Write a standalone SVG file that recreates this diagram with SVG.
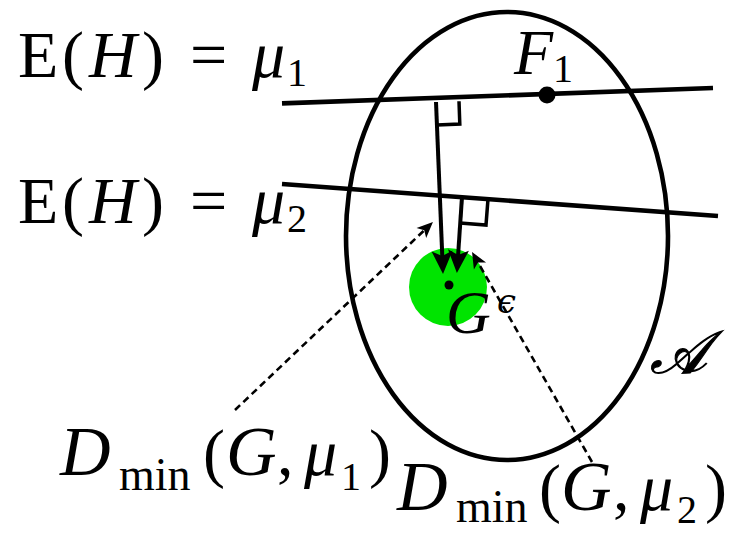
<svg xmlns="http://www.w3.org/2000/svg" width="735" height="533" viewBox="0 0 735 533">
<style>
.t{font-family:"Liberation Serif","DejaVu Serif",serif;fill:#000}
.it{font-style:italic}
.thick{fill:none;stroke:#000;stroke-width:4.6}
.arr{fill:none;stroke:#000;stroke-width:4}
.sq{fill:none;stroke:#000;stroke-width:3.5}
.dot{fill:none;stroke:#000;stroke-width:2.6;stroke-dasharray:7 4.5}
</style>
<defs>
<marker id="head" markerUnits="userSpaceOnUse" viewBox="0 -12 26 24" refX="8" refY="0" markerWidth="26" markerHeight="24" orient="auto" overflow="visible">
<path d="M0,-10.5 L23,0 L0,10.5 L5,0 Z" fill="#000"/>
</marker>
<marker id="headS" markerUnits="userSpaceOnUse" viewBox="0 -9 20 18" refX="6" refY="0" markerWidth="20" markerHeight="18" orient="auto" overflow="visible">
<path d="M0,-7 L16,0 L0,7 L4,0 Z" fill="#000"/>
</marker>
</defs>
<rect width="735" height="533" fill="#fff"/>
<g id="set-G-eps">
<circle cx="448" cy="287" r="39" fill="#00e400"/>
<circle cx="449" cy="285" r="4.5" fill="#000"/>
</g>
<g id="region-A">
<ellipse cx="507" cy="236" rx="161" ry="224" class="thick"/>
</g>
<g id="line-mu1">
<line x1="282" y1="103.4" x2="713" y2="88" class="thick"/>
</g>
<g id="line-mu2">
<line x1="282" y1="184" x2="718" y2="216" class="thick"/>
</g>
<g id="point-F1">
<circle cx="547" cy="95" r="8.5" fill="#000"/>
</g>
<g id="connectors">
<line x1="436" y1="102" x2="442.4" y2="259" class="arr" marker-end="url(#head)"/>
<polyline points="436.8,125 459.8,124 459,101.2" class="sq"/>
<line x1="462" y1="197" x2="457.9" y2="258" class="arr" marker-end="url(#head)"/>
<polyline points="460,223 486,225 488,199" class="sq"/>
<line x1="235" y1="410" x2="425.7" y2="228.9" class="dot" marker-end="url(#headS)"/>
<line x1="592" y1="462" x2="477" y2="260.7" class="dot" marker-end="url(#headS)"/>
</g>
<g id="label-mu1">
<text class="t" font-size="66" y="77"><tspan x="18">E</tspan><tspan x="62">(</tspan><tspan x="89" class="it">H</tspan><tspan x="142">)</tspan><tspan x="190">=</tspan><tspan x="252" class="it">μ</tspan><tspan x="287" y="86" font-size="40">1</tspan></text>
</g>
<g id="label-mu2">
<text class="t" font-size="66" y="223"><tspan x="18">E</tspan><tspan x="62">(</tspan><tspan x="89" class="it">H</tspan><tspan x="142">)</tspan><tspan x="190">=</tspan><tspan x="252" class="it">μ</tspan><tspan x="287" y="232" font-size="40">2</tspan></text>
</g>
<g id="label-F1">
<text class="t" font-size="64" y="74"><tspan x="514" class="it">F</tspan><tspan x="553" y="82" font-size="40">1</tspan></text>
</g>
<g id="label-G">
<text class="t" font-size="62" y="333"><tspan x="446" class="it">G</tspan><tspan x="497" y="313" font-size="34" class="it" font-family="DejaVu Serif">ϵ</tspan></text>
</g>
<g id="label-A">
<text class="t it" font-size="60" x="650" y="373" stroke="#000" stroke-width="1.2">𝒜</text>
</g>
<g id="label-Dmin1">
<text class="t" font-size="66" y="475"><tspan x="60" class="it" font-size="70">D</tspan><tspan x="119" y="490" font-size="46">min</tspan><tspan x="203" y="475">(</tspan><tspan x="226" class="it" font-size="70">G</tspan><tspan x="277">,</tspan><tspan x="304" class="it">μ</tspan><tspan x="341" y="490" font-size="40">1</tspan><tspan x="369" y="475">)</tspan></text>
</g>
<g id="label-Dmin2">
<text class="t" font-size="66" y="510"><tspan x="397" class="it" font-size="70">D</tspan><tspan x="456" y="522" font-size="46">min</tspan><tspan x="539" y="510">(</tspan><tspan x="561" class="it" font-size="70">G</tspan><tspan x="613">,</tspan><tspan x="640" class="it">μ</tspan><tspan x="677" y="523" font-size="40">2</tspan><tspan x="705" y="510">)</tspan></text>
</g>
</svg>
